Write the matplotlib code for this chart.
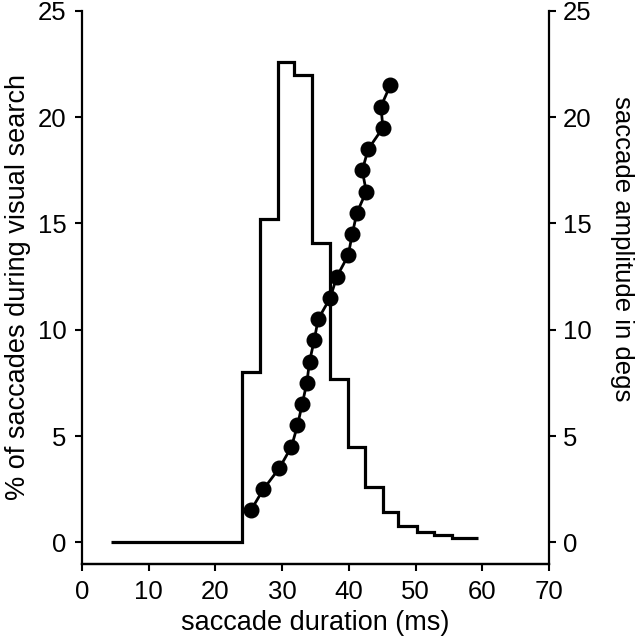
import matplotlib.pyplot as plt

plt.rcParams['font.family'] = ['Liberation Sans', 'DejaVu Sans']

# histogram of saccade durations (step edges in ms, heights in %)
bin_edges = [4.4, 24.0, 26.7, 29.4, 31.8, 34.5, 37.2, 39.9, 42.4, 45.1,
             47.4, 50.2, 52.8, 55.5, 59.4]
pct_saccades = [0.0, 8.0, 15.2, 22.6, 22.0, 14.1, 7.7, 4.5, 2.6, 1.45,
                0.75, 0.5, 0.33, 0.2]

# main sequence: duration vs amplitude
duration = [25.3, 27.2, 29.6, 31.4, 32.3, 33.0, 33.7, 34.1, 34.8, 35.4,
            37.2, 38.2, 39.9, 40.5, 41.2, 42.6, 42.0, 42.9, 45.1, 44.8, 46.2]
amplitude = [1.5, 2.5, 3.5, 4.5, 5.5, 6.5, 7.5, 8.5, 9.5, 10.5,
             11.5, 12.5, 13.5, 14.5, 15.5, 16.5, 17.5, 18.5, 19.5, 20.5, 21.5]

fig = plt.figure(figsize=(6.4, 6.39), dpi=100)
ax = fig.add_axes([0.128, 0.118, 0.730, 0.865])

ax.stairs(pct_saccades, bin_edges, baseline=None, color='black', linewidth=2.3)
ax.set_xlim(0, 70)
ax.set_ylim(-1, 25)
ax.set_xticks(range(0, 71, 10))
ax.set_yticks(range(0, 26, 5))
ax.set_xlabel('saccade duration (ms)', fontsize=19.5, labelpad=4)
ax.set_ylabel('% of saccades during visual search', fontsize=19.5, labelpad=5)

ax2 = ax.twinx()
ax2.plot(duration, amplitude, color='black', linewidth=2, marker='o',
         markersize=10.5)
ax2.set_ylim(-1, 25)
ax2.set_yticks(range(0, 26, 5))
ax2.set_ylabel('saccade amplitude in degs', fontsize=18.5, rotation=270,
               va='center', ha='center')
ax2.yaxis.set_label_coords(1.157, 0.57)

for a in (ax, ax2):
    a.spines['top'].set_visible(False)
    for s in ('left', 'right', 'bottom'):
        a.spines[s].set_linewidth(1.6)
    a.spines['left'].set_bounds(-1, 25)
    a.spines['right'].set_bounds(-1, 25)
    a.tick_params(direction='out', length=5, width=1.5, labelsize=18.5)
ax.tick_params(axis='x', pad=7)
ax.tick_params(axis='y', pad=6)
ax2.tick_params(axis='y', pad=5)
ax2.spines['left'].set_visible(False)
ax.spines['right'].set_visible(False)

fig.savefig('out.png', dpi=100)
